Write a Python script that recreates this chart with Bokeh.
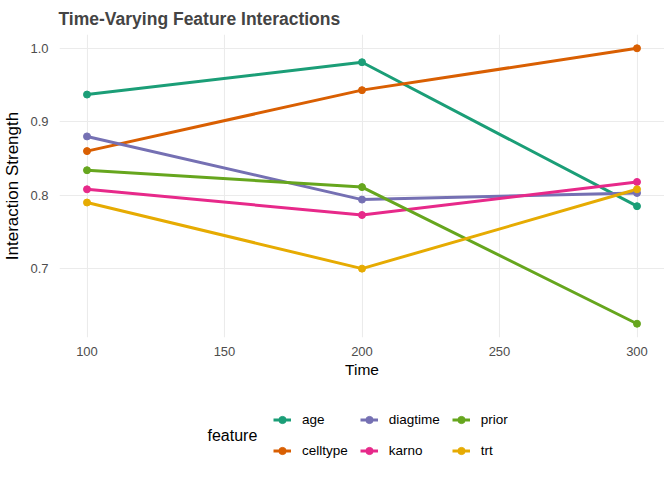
from bokeh.plotting import figure
from bokeh.layouts import column
from bokeh.models import Legend, LegendItem, Label, FixedTicker, Range1d, NumeralTickFormatter
from bokeh.embed import file_html
from bokeh.resources import INLINE

times = [100, 200, 300]
features = ["age", "celltype", "diagtime", "karno", "prior", "trt"]
age = [0.937, 0.981, 0.785]
celltype = [0.860, 0.943, 1.000]
diagtime = [0.880, 0.794, 0.803]
karno = [0.808, 0.773, 0.818]
prior = [0.834, 0.811, 0.625]
trt = [0.790, 0.700, 0.808]
series = [age, celltype, diagtime, karno, prior, trt]
colors = ["#1B9E77", "#D95F02", "#7570B3", "#E7298A", "#66A61E", "#E6AB02"]
x_ticks = [100, 150, 200, 250, 300]
y_ticks = [0.7, 0.8, 0.9, 1.0]

FONT = "Liberation Sans"

p = figure(frame_width=605, frame_height=303, output_backend="svg", toolbar_location=None,
           x_range=Range1d(90, 310), y_range=Range1d(0.60625, 1.01875),
           min_border_left=51, min_border_right=0, min_border_top=27, min_border_bottom=48)
p.outline_line_color = None
p.background_fill_color = "white"
p.border_fill_color = "white"

p.title.text = "Time-Varying Feature Interactions"
p.title.text_font = FONT
p.title.text_font_size = "17.5px"
p.title.text_font_style = "bold"
p.title.align = "left"
p.title.offset = -1
p.title.standoff = 12

for ax in (p.xaxis[0], p.yaxis[0]):
    ax.axis_line_color = None
    ax.major_tick_line_color = None
    ax.minor_tick_line_color = None
    ax.major_label_text_font = FONT
    ax.major_label_text_font_size = "13px"
    ax.major_label_text_color = "#4D4D4D"
    ax.axis_label_text_font = FONT
    ax.axis_label_text_font_style = "normal"
    ax.axis_label_text_color = "black"
p.xaxis.axis_label_text_font_size = "15.5px"
p.yaxis.axis_label_text_font_size = "17px"

p.xaxis.ticker = FixedTicker(ticks=x_ticks)
p.yaxis.ticker = FixedTicker(ticks=y_ticks)
p.yaxis.formatter = NumeralTickFormatter(format="0.0")
p.xaxis.axis_label = "Time"
p.yaxis.axis_label = "Interaction Strength"
p.xaxis.major_label_standoff = 3
p.xaxis.axis_label_standoff = 2
p.yaxis.major_label_standoff = 5
p.yaxis.axis_label_standoff = 5

p.xgrid.grid_line_color = "#EBEBEB"
p.ygrid.grid_line_color = "#EBEBEB"
p.xgrid.grid_line_width = 1.1
p.ygrid.grid_line_width = 1.1

for name, vals, col in zip(features, series, colors):
    p.line(times, vals, line_color=col, line_width=3)
for name, vals, col in zip(features, series, colors):
    p.scatter(times, vals, size=7, fill_color=col, line_color=col)

# legend panel: an axis-free figure below the chart (its glyphs lie outside its view)
q = figure(width=656, height=86, output_backend="svg", toolbar_location=None,
           x_range=Range1d(0, 1), y_range=Range1d(0, 1),
           min_border_left=0, min_border_right=0, min_border_top=0, min_border_bottom=0)
q.axis.visible = False
q.grid.visible = False
q.outline_line_color = None
q.background_fill_color = "white"
q.border_fill_color = "white"

items = []
for name, vals, col in zip(features, series, colors):
    lr = q.line(times, vals, line_color=col, line_width=3)
    sr = q.scatter(times, vals, size=7, fill_color=col, line_color=col)
    items.append(LegendItem(label=name, renderers=[lr, sr]))
legend = Legend(items=items, location=(214, 11), orientation="vertical", nrows=2,
                padding=0, margin=0, border_line_alpha=0, background_fill_alpha=0,
                glyph_width=18, glyph_height=19, label_standoff=11, spacing=12,
                label_text_font=FONT, label_text_font_size="13.5px",
                label_text_color="black", label_height=19)
q.add_layout(legend, "center")

lab = Label(x=148, y=36, x_units="screen", y_units="screen", text="feature",
            text_font=FONT, text_font_size="16px", text_color="black",
            text_baseline="middle", text_align="left")
q.add_layout(lab)

layout = column(p, q, spacing=0)
open("out.html", "w").write(file_html(layout, INLINE))
